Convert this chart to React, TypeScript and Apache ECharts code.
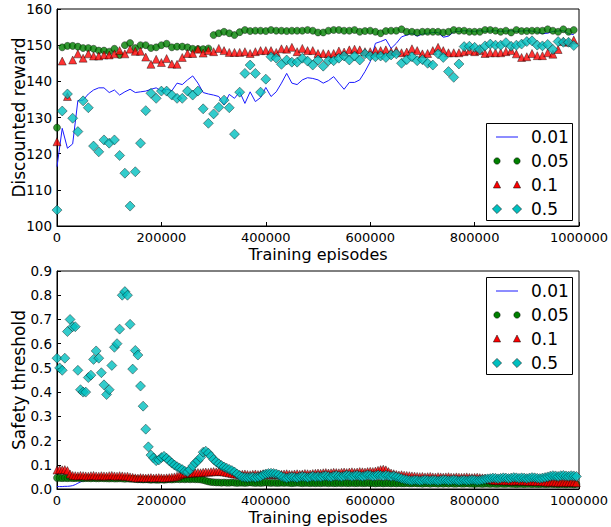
import React, { useEffect, useRef } from "react";
import * as echarts from "echarts";

const FONT = "DejaVu Sans";

// ---- Top panel: discounted reward, sampled every 10000 episodes ----
const topEpisodes = Array.from({ length: 100 }, (_, i) => i * 10000);

const rewardEps001 = [
  116.4, 127.0, 121.5, 122.7, 134.7, 134.8, 136.5, 137.6, 138.2, 138.2, 136.9, 137.6, 136.2, 137.1, 137.8, 136.9, 137.1, 137.3, 137.8, 138.2,
  137.3, 137.8, 137.4, 139.5, 139.1, 140.4, 141.5, 139.5, 136.9, 136.5, 136.2, 135.8, 133.5, 136.4, 135.3, 137.1, 133.9, 137.1, 134.4, 135.5,
  138.3, 135.8, 137.1, 139.5, 142.2, 139.5, 139.1, 140.4, 141.0, 140.8, 140.4, 139.5, 140.2, 141.3, 139.5, 137.8, 139.7, 139.7, 140.4, 142.7,
  145.4, 150.5, 151.0, 151.6, 149.1, 150.5, 152.3, 152.8, 153.3, 152.5, 153.1, 153.3, 153.5, 153.5, 152.2, 152.5, 153.7, 153.8, 154.0, 153.9,
  153.8, 154.0, 153.8, 153.9, 154.0, 153.8, 153.9, 154.0, 153.8, 153.9, 154.0, 153.9, 153.6, 153.2, 153.3, 153.8, 153.9, 154.0, 153.2, 152.9,
];

const rewardEps005 = [
  127.2, 149.4, 149.8, 149.8, 149.6, 149.2, 149.2, 149.0, 148.5, 148.5, 148.2, 149.0, 147.3, 150.0, 150.6, 149.2, 150.0, 150.0, 149.2, 149.4,
  150.0, 150.4, 149.4, 149.6, 149.6, 149.4, 149.0, 148.9, 148.9, 149.1, 152.8, 153.3, 153.7, 153.3, 152.8, 153.6, 154.2, 153.9, 154.0, 154.0,
  153.9, 154.2, 154.0, 154.0, 153.9, 154.0, 154.0, 154.0, 154.2, 154.0, 153.5, 153.5, 154.0, 154.2, 154.2, 154.0, 154.0, 154.2, 153.7, 153.9,
  154.0, 153.7, 153.3, 153.9, 154.0, 154.0, 154.4, 153.7, 153.7, 153.5, 153.7, 153.7, 153.7, 153.7, 153.5, 153.7, 154.2, 154.0, 154.0, 153.7,
  153.7, 153.7, 154.2, 154.2, 154.0, 153.7, 154.0, 153.5, 154.2, 153.9, 153.9, 154.0, 154.0, 154.0, 154.4, 154.0, 153.7, 154.4, 153.7, 154.2,
];

const rewardEps01 = [
  123.3, 145.6, 135.8, 145.9, 147.6, 146.4, 147.6, 147.0, 147.0, 147.3, 147.3, 147.6, 148.5, 147.6, 148.9, 148.3, 148.3, 146.7, 144.7, 146.1,
  145.2, 146.3, 144.8, 144.7, 146.6, 147.7, 147.7, 148.9, 147.8, 148.5, 148.2, 149.1, 148.5, 148.0, 148.0, 148.0, 148.2, 147.7, 148.2, 148.5,
  148.5, 148.5, 148.0, 149.0, 148.9, 149.4, 148.2, 149.1, 148.5, 148.5, 147.7, 147.7, 147.6, 147.7, 148.4, 148.1, 148.7, 148.9, 148.7, 148.2,
  148.2, 148.5, 148.5, 148.7, 148.2, 148.5, 147.9, 148.1, 149.0, 148.5, 147.6, 147.7, 148.5, 149.4, 148.5, 147.9, 147.9, 147.9, 148.2, 148.5,
  148.2, 148.5, 147.7, 147.9, 147.9, 147.9, 148.2, 148.5, 147.6, 146.6, 146.8, 147.7, 147.1, 147.1, 147.9, 147.5, 148.8, 151.0, 150.8, 151.4,
];

const rewardEps05 = [
  104.4, 131.8, 136.5, 129.8, 126.1, 134.6, 132.7, 122.1, 120.5, 123.8, 122.9, 123.8, 119.5, 114.6, 105.5, 115.0, 122.9, 131.9, 136.7, 135.3,
  137.3, 137.3, 136.2, 135.3, 135.3, 137.3, 136.2, 137.3, 132.4, 128.4, 131.0, 132.8, 134.8, 132.7, 125.4, 137.0, 142.2, 144.5, 142.2, 137.0,
  140.6, 146.8, 146.4, 144.7, 145.9, 145.3, 145.3, 146.4, 145.6, 144.5, 145.9, 144.2, 145.7, 145.7, 146.4, 147.0, 145.9, 147.0, 145.9, 147.6,
  147.0, 146.8, 147.0, 146.6, 147.3, 147.6, 145.0, 146.0, 146.8, 145.7, 146.0, 145.0, 144.5, 147.6, 146.6, 142.7, 141.1, 144.8, 149.6, 149.7,
  149.4, 148.8, 149.8, 150.3, 150.0, 150.0, 150.7, 149.7, 150.0, 150.3, 151.0, 151.2, 150.0, 149.8, 150.2, 148.8, 151.0, 150.8, 150.8, 149.9,
];

// ---- Bottom panel: safety threshold, sampled every 5000 episodes ----
const bottomEpisodes = Array.from({ length: 200 }, (_, i) => i * 5000);

const thrEps001 = [
  0.01, 0.01, 0.01, 0.011, 0.011, 0.012, 0.014, 0.018, 0.024, 0.029, 0.033, 0.035, 0.036, 0.036, 0.036, 0.037, 0.036, 0.036, 0.037, 0.036,
  0.036, 0.035, 0.036, 0.036, 0.035, 0.036, 0.035, 0.034, 0.033, 0.032, 0.031, 0.03, 0.03, 0.029, 0.03, 0.029, 0.03, 0.029, 0.03, 0.031,
  0.03, 0.03, 0.031, 0.03, 0.031, 0.032, 0.031, 0.032, 0.031, 0.032, 0.031, 0.032, 0.033, 0.032, 0.033, 0.032, 0.033, 0.032, 0.033, 0.034,
  0.033, 0.032, 0.033, 0.034, 0.033, 0.034, 0.033, 0.034, 0.033, 0.032, 0.031, 0.03, 0.029, 0.028, 0.027, 0.027, 0.026, 0.026, 0.025, 0.025,
  0.025, 0.024, 0.025, 0.024, 0.024, 0.025, 0.024, 0.024, 0.023, 0.024, 0.024, 0.023, 0.024, 0.023, 0.023, 0.024, 0.023, 0.023, 0.022, 0.023,
  0.023, 0.022, 0.023, 0.022, 0.022, 0.023, 0.022, 0.022, 0.021, 0.022, 0.022, 0.021, 0.022, 0.022, 0.021, 0.022, 0.021, 0.021, 0.022, 0.021,
  0.021, 0.022, 0.021, 0.021, 0.02, 0.021, 0.021, 0.02, 0.021, 0.02, 0.021, 0.021, 0.02, 0.021, 0.02, 0.02, 0.021, 0.02, 0.02, 0.021,
  0.02, 0.02, 0.019, 0.02, 0.02, 0.019, 0.02, 0.02, 0.019, 0.02, 0.019, 0.02, 0.019, 0.019, 0.02, 0.019, 0.019, 0.02, 0.019, 0.019,
  0.018, 0.019, 0.019, 0.018, 0.019, 0.019, 0.018, 0.019, 0.018, 0.018, 0.019, 0.018, 0.018, 0.019, 0.018, 0.018, 0.017, 0.018, 0.018, 0.017,
  0.018, 0.018, 0.017, 0.018, 0.017, 0.017, 0.018, 0.017, 0.017, 0.018, 0.017, 0.017, 0.016, 0.017, 0.017, 0.016, 0.017, 0.017, 0.016, 0.017,
];

const thrEps005 = [
  0.046, 0.046, 0.045, 0.046, 0.045, 0.046, 0.045, 0.045, 0.046, 0.045, 0.044, 0.045, 0.045, 0.044, 0.045, 0.044, 0.044, 0.045, 0.044, 0.044,
  0.043, 0.044, 0.043, 0.043, 0.044, 0.043, 0.042, 0.043, 0.042, 0.042, 0.041, 0.04, 0.04, 0.039, 0.04, 0.039, 0.038, 0.039, 0.038, 0.038,
  0.039, 0.038, 0.039, 0.04, 0.039, 0.04, 0.041, 0.04, 0.041, 0.04, 0.041, 0.04, 0.041, 0.04, 0.04, 0.039, 0.037, 0.034, 0.031, 0.029,
  0.028, 0.027, 0.027, 0.026, 0.027, 0.026, 0.026, 0.027, 0.026, 0.025, 0.026, 0.026, 0.025, 0.026, 0.027, 0.026, 0.025, 0.026, 0.025, 0.026,
  0.027, 0.026, 0.025, 0.026, 0.025, 0.025, 0.026, 0.025, 0.026, 0.025, 0.024, 0.025, 0.026, 0.025, 0.024, 0.025, 0.025, 0.024, 0.025, 0.024,
  0.025, 0.024, 0.025, 0.025, 0.024, 0.025, 0.024, 0.024, 0.025, 0.024, 0.025, 0.024, 0.024, 0.025, 0.024, 0.024, 0.025, 0.024, 0.024, 0.025,
  0.024, 0.024, 0.023, 0.024, 0.024, 0.023, 0.024, 0.024, 0.023, 0.024, 0.023, 0.024, 0.023, 0.023, 0.024, 0.023, 0.023, 0.024, 0.023, 0.023,
  0.022, 0.023, 0.023, 0.022, 0.023, 0.023, 0.022, 0.023, 0.022, 0.023, 0.022, 0.023, 0.022, 0.022, 0.023, 0.022, 0.022, 0.023, 0.022, 0.022,
  0.021, 0.022, 0.022, 0.021, 0.022, 0.022, 0.021, 0.022, 0.021, 0.021, 0.022, 0.021, 0.021, 0.022, 0.021, 0.021, 0.02, 0.021, 0.021, 0.02,
  0.021, 0.021, 0.02, 0.021, 0.02, 0.02, 0.021, 0.02, 0.02, 0.021, 0.02, 0.02, 0.019, 0.02, 0.02, 0.019, 0.02, 0.02, 0.019, 0.02,
];

const thrEps01 = [
  0.078, 0.08, 0.079, 0.08, 0.076, 0.062, 0.056, 0.055, 0.054, 0.056, 0.055, 0.054, 0.053, 0.055, 0.056, 0.054, 0.053, 0.055, 0.054, 0.053,
  0.055, 0.056, 0.054, 0.053, 0.055, 0.054, 0.052, 0.053, 0.05, 0.048, 0.046, 0.045, 0.047, 0.046, 0.045, 0.046, 0.047, 0.045, 0.046, 0.047,
  0.046, 0.045, 0.046, 0.047, 0.048, 0.05, 0.053, 0.058, 0.062, 0.063, 0.065, 0.066, 0.065, 0.067, 0.068, 0.067, 0.069, 0.07, 0.069, 0.071,
  0.072, 0.071, 0.073, 0.072, 0.07, 0.068, 0.066, 0.064, 0.062, 0.061, 0.06, 0.061, 0.062, 0.06, 0.059, 0.061, 0.062, 0.06, 0.061, 0.063,
  0.062, 0.06, 0.061, 0.062, 0.06, 0.059, 0.061, 0.062, 0.063, 0.061, 0.06, 0.062, 0.063, 0.061, 0.062, 0.064, 0.063, 0.062, 0.064, 0.065,
  0.066, 0.065, 0.067, 0.068, 0.066, 0.067, 0.069, 0.068, 0.067, 0.069, 0.07, 0.068, 0.07, 0.071, 0.069, 0.07, 0.072, 0.071, 0.07, 0.072,
  0.073, 0.072, 0.074, 0.077, 0.08, 0.082, 0.079, 0.072, 0.066, 0.063, 0.06, 0.058, 0.059, 0.057, 0.056, 0.055, 0.054, 0.053, 0.052, 0.051,
  0.052, 0.05, 0.051, 0.052, 0.05, 0.049, 0.051, 0.05, 0.049, 0.05, 0.051, 0.049, 0.048, 0.05, 0.049, 0.048, 0.049, 0.05, 0.048, 0.047,
  0.048, 0.049, 0.047, 0.046, 0.045, 0.042, 0.038, 0.036, 0.035, 0.034, 0.035, 0.034, 0.033, 0.034, 0.033, 0.032, 0.033, 0.034, 0.032, 0.033,
  0.032, 0.031, 0.032, 0.031, 0.03, 0.031, 0.03, 0.029, 0.028, 0.028, 0.029, 0.028, 0.027, 0.028, 0.027, 0.028, 0.027, 0.028, 0.027, 0.026,
];

const thrEps05 = [
  0.54, 0.5, 0.49, 0.54, 0.65, 0.7, 0.67, 0.67, 0.49, 0.41, 0.4, 0.4, 0.46, 0.47, 0.535, 0.57, 0.54, 0.48, 0.43, 0.39,
  0.41, 0.51, 0.585, 0.6, 0.66, 0.8, 0.815, 0.8, 0.68, 0.495, 0.572, 0.553, 0.425, 0.342, 0.247, 0.174, 0.14, 0.128, 0.117, 0.12,
  0.13, 0.135, 0.127, 0.117, 0.107, 0.099, 0.092, 0.086, 0.08, 0.073, 0.07, 0.08, 0.095, 0.108, 0.117, 0.13, 0.152, 0.156, 0.148, 0.135,
  0.122, 0.112, 0.104, 0.097, 0.091, 0.086, 0.081, 0.076, 0.07, 0.062, 0.055, 0.05, 0.048, 0.047, 0.048, 0.05, 0.047, 0.05, 0.052, 0.058,
  0.062, 0.064, 0.065, 0.064, 0.062, 0.058, 0.052, 0.048, 0.045, 0.048, 0.05, 0.048, 0.046, 0.05, 0.052, 0.05, 0.047, 0.05, 0.053, 0.05,
  0.052, 0.05, 0.053, 0.055, 0.052, 0.05, 0.054, 0.056, 0.053, 0.051, 0.054, 0.057, 0.055, 0.052, 0.055, 0.057, 0.054, 0.052, 0.055, 0.058,
  0.056, 0.053, 0.055, 0.058, 0.056, 0.054, 0.057, 0.055, 0.052, 0.054, 0.05, 0.047, 0.043, 0.04, 0.038, 0.036, 0.035, 0.037, 0.036, 0.034,
  0.036, 0.038, 0.036, 0.035, 0.037, 0.036, 0.034, 0.036, 0.038, 0.037, 0.035, 0.036, 0.038, 0.036, 0.034, 0.036, 0.037, 0.035, 0.036, 0.038,
  0.037, 0.035, 0.036, 0.038, 0.04, 0.042, 0.043, 0.045, 0.044, 0.042, 0.044, 0.046, 0.045, 0.043, 0.045, 0.047, 0.046, 0.044, 0.046, 0.045,
  0.043, 0.045, 0.047, 0.046, 0.044, 0.043, 0.045, 0.047, 0.05, 0.053, 0.055, 0.054, 0.052, 0.055, 0.056, 0.054, 0.053, 0.055, 0.054, 0.052,
];

const seriesNames = ["0.01", "0.05", "0.1", "0.5"];
const xTicks = [0, 200000, 400000, 600000, 800000, 1000000];

const BLUE = "#1a1aff";
const GREEN = "#008000";
const RED = "#ff0000";
const CYAN = "#00bfbf";

function pairs(xs: number[], ys: number[]) {
  return ys.map((y, i) => [xs[i], y]);
}

function makeXAxis(gridIndex: number) {
  return {
    gridIndex,
    type: "value",
    min: xTicks[0],
    max: xTicks[xTicks.length - 1],
    interval: 200000,
    name: "Training episodes",
    nameLocation: "middle",
    nameGap: 20.5,
    nameMoveOverlap: false,
    nameTextStyle: { fontSize: 16, color: "#000", fontFamily: FONT },
    axisLine: { show: true, lineStyle: { color: "#000", width: 1 } },
    axisTick: { show: true, inside: true, length: 4, lineStyle: { color: "#000" } },
    axisLabel: { color: "#000", fontSize: 13, fontFamily: FONT, margin: 5, formatter: (v: number) => String(v) },
    splitLine: { show: false },
  };
}

function makeYAxis(gridIndex: number, name: string, min: number, max: number, interval: number, dec: number) {
  return {
    gridIndex,
    type: "value",
    min,
    max,
    interval,
    name,
    nameLocation: "middle",
    nameGap: 30,
    nameMoveOverlap: false,
    nameTextStyle: { fontSize: 17, color: "#000", fontFamily: FONT },
    axisLine: { show: true, lineStyle: { color: "#000", width: 1 } },
    axisTick: { show: true, inside: true, length: 4, lineStyle: { color: "#000" } },
    axisLabel: { color: "#000", fontSize: 13.5, fontFamily: FONT, margin: 5, formatter: (v: number) => v.toFixed(dec) },
    splitLine: { show: false },
  };
}

function makeSeries(axis: number, xs: number[], blue: number[], green: number[], red: number[], cyan: number[]) {
  const border = { borderColor: "#000", borderWidth: 0.5 };
  return [
    {
      name: seriesNames[0],
      type: "line",
      xAxisIndex: axis,
      yAxisIndex: axis,
      data: pairs(xs, blue),
      showSymbol: false,
      symbol: "none",
      lineStyle: { color: BLUE, width: 1 },
      itemStyle: { color: BLUE },
      z: 2,
    },
    {
      name: seriesNames[1],
      type: "scatter",
      xAxisIndex: axis,
      yAxisIndex: axis,
      data: pairs(xs, green),
      symbol: "circle",
      symbolSize: 7,
      itemStyle: { color: GREEN, ...border },
      z: 3,
    },
    {
      name: seriesNames[2],
      type: "scatter",
      xAxisIndex: axis,
      yAxisIndex: axis,
      data: pairs(xs, red),
      symbol: "triangle",
      symbolSize: 8,
      itemStyle: { color: RED, ...border },
      z: 4,
    },
    {
      name: seriesNames[3],
      type: "scatter",
      xAxisIndex: axis,
      yAxisIndex: axis,
      data: pairs(xs, cyan),
      symbol: "diamond",
      symbolSize: 10,
      itemStyle: { color: CYAN, ...border },
      z: 5,
    },
  ];
}

function legendGraphic(left: number, top: number) {
  const w = 86;
  const h = 97;
  const children: any[] = [
    { type: "rect", shape: { x: left, y: top, width: w, height: h }, style: { fill: "#fff", stroke: "#000", lineWidth: 1 } },
  ];
  const x1 = left + 10.5;
  const x2 = left + 30.5;
  const tx = left + 44.5;
  seriesNames.forEach((name, k) => {
    const cy = top + 13.5 + k * 24;
    if (k === 0) {
      children.push({ type: "line", shape: { x1: x1 - 1, y1: cy, x2: x2 + 1, y2: cy }, style: { stroke: BLUE, lineWidth: 1 } });
    } else {
      [x1, x2].forEach((cx) => {
        if (k === 1) {
          children.push({ type: "circle", shape: { cx, cy, r: 3.2 }, style: { fill: GREEN, stroke: "#000", lineWidth: 0.5 } });
        } else if (k === 2) {
          children.push({
            type: "polygon",
            shape: { points: [[cx, cy - 4], [cx + 3.6, cy + 3], [cx - 3.6, cy + 3]] },
            style: { fill: RED, stroke: "#000", lineWidth: 0.5 },
          });
        } else {
          children.push({
            type: "polygon",
            shape: { points: [[cx, cy - 4.6], [cx + 4.6, cy], [cx, cy + 4.6], [cx - 4.6, cy]] },
            style: { fill: CYAN, stroke: "#000", lineWidth: 0.5 },
          });
        }
      });
    }
    children.push({
      type: "text",
      style: { text: name, x: tx, y: cy, fontSize: 17, fontFamily: FONT, fill: "#000", verticalAlign: "middle", textAlign: "left" },
    });
  });
  return { type: "group", z: 100, children };
}

export default function App() {
  const ref = useRef<HTMLDivElement>(null);

  useEffect(() => {
    if (!ref.current) return;
    const chart = echarts.init(ref.current, undefined, { renderer: "svg" });
    chart.setOption({
      animation: false,
      backgroundColor: "#fff",
      textStyle: { fontFamily: FONT },
      grid: [
        { left: 57, top: 9, width: 522, height: 217, show: true, borderColor: "#000", borderWidth: 1, backgroundColor: "transparent", containLabel: false, outerBoundsMode: "none" },
        { left: 57, top: 271, width: 522, height: 218, show: true, borderColor: "#000", borderWidth: 1, backgroundColor: "transparent", containLabel: false, outerBoundsMode: "none" },
      ],
      xAxis: [makeXAxis(0), makeXAxis(1)],
      yAxis: [
        makeYAxis(0, "Discounted reward", 100, 160, 10, 0),
        makeYAxis(1, "Safety threshold", 0, 0.9, 0.1, 1),
      ],
      series: [
        ...makeSeries(0, topEpisodes, rewardEps001, rewardEps005, rewardEps01, rewardEps05),
        ...makeSeries(1, bottomEpisodes, thrEps001, thrEps005, thrEps01, thrEps05),
      ],
      graphic: [legendGraphic(486.5, 123.5), legendGraphic(486.5, 277.5)],
    });
    return () => chart.dispose();
  }, []);

  return (
    <div
      ref={ref}
      style={{ position: "fixed", left: 0, top: 0, width: 611, height: 527, background: "#fff" }}
    />
  );
}
